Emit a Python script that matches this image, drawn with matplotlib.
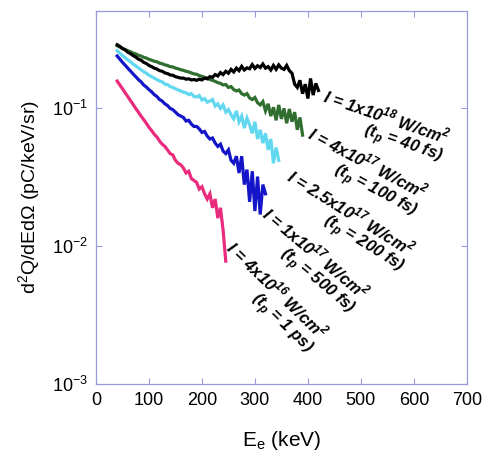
import matplotlib
matplotlib.use("Agg")
import matplotlib.pyplot as plt
import numpy as np

plt.rcParams["font.family"] = ["Liberation Sans", "DejaVu Sans"]

# energies (keV), 5 keV bins, one array per spectrum
E_1ps = np.arange(40, 250, 5)
E_500fs = np.arange(40, 325, 5)
E_200fs = np.arange(40, 350, 5)
E_100fs = np.arange(40, 395, 5)
E_40fs = np.arange(40, 425, 5)

# d2Q/dEdOmega (pC/keV/sr)
Q_1ps = [0.158, 0.148, 0.139, 0.130, 0.122, 0.114, 0.107, 0.100, 0.094, 0.088,
         0.083, 0.078, 0.073, 0.069, 0.065, 0.062, 0.058, 0.055, 0.053, 0.050,
         0.047, 0.046, 0.042, 0.040, 0.039, 0.037, 0.034, 0.035, 0.031, 0.030,
         0.029, 0.026, 0.027, 0.024, 0.022, 0.024, 0.019, 0.022, 0.016, 0.019,
         0.013, 0.0078]
Q_500fs = [0.240, 0.228, 0.216, 0.206, 0.196, 0.187, 0.178, 0.170, 0.162, 0.156,
           0.148, 0.143, 0.137, 0.132, 0.126, 0.122, 0.116, 0.113, 0.108, 0.105,
           0.100, 0.098, 0.094, 0.090, 0.088, 0.086, 0.081, 0.082, 0.077, 0.074,
           0.074, 0.071, 0.067, 0.068, 0.063, 0.060, 0.061, 0.056, 0.053, 0.055,
           0.049, 0.047, 0.050, 0.042, 0.040, 0.045, 0.034, 0.045, 0.028, 0.036,
           0.021, 0.035, 0.018, 0.032, 0.017, 0.028, 0.024]
Q_200fs = [0.262, 0.252, 0.242, 0.234, 0.225, 0.218, 0.210, 0.204, 0.197, 0.191,
           0.185, 0.180, 0.174, 0.170, 0.166, 0.162, 0.158, 0.156, 0.150, 0.149,
           0.144, 0.142, 0.139, 0.136, 0.134, 0.131, 0.130, 0.126, 0.128, 0.122,
           0.121, 0.124, 0.115, 0.118, 0.111, 0.113, 0.116, 0.104, 0.108, 0.100,
           0.106, 0.094, 0.098, 0.090, 0.084, 0.096, 0.080, 0.088, 0.072, 0.085,
           0.076, 0.066, 0.080, 0.060, 0.070, 0.056, 0.066, 0.050, 0.060, 0.040,
           0.052, 0.042]
Q_100fs = [0.285, 0.279, 0.272, 0.268, 0.262, 0.258, 0.252, 0.249, 0.243, 0.240,
           0.235, 0.232, 0.227, 0.224, 0.220, 0.218, 0.213, 0.211, 0.207, 0.205,
           0.201, 0.200, 0.196, 0.194, 0.191, 0.189, 0.186, 0.184, 0.181, 0.178,
           0.177, 0.173, 0.171, 0.168, 0.166, 0.162, 0.160, 0.157, 0.154, 0.152,
           0.148, 0.149, 0.142, 0.144, 0.137, 0.134, 0.136, 0.128, 0.125, 0.128,
           0.119, 0.116, 0.120, 0.110, 0.106, 0.112, 0.096, 0.108, 0.088, 0.102,
           0.082, 0.106, 0.084, 0.100, 0.078, 0.099, 0.080, 0.094, 0.070, 0.086,
           0.064]
Q_40fs = [0.290, 0.282, 0.272, 0.266, 0.256, 0.250, 0.242, 0.236, 0.228, 0.224,
          0.216, 0.212, 0.205, 0.201, 0.196, 0.193, 0.188, 0.186, 0.181, 0.179,
          0.175, 0.174, 0.170, 0.168, 0.166, 0.166, 0.163, 0.164, 0.161, 0.162,
          0.160, 0.163, 0.161, 0.166, 0.164, 0.170, 0.168, 0.176, 0.172, 0.182,
          0.176, 0.186, 0.180, 0.192, 0.184, 0.196, 0.188, 0.202, 0.190, 0.197,
          0.194, 0.208, 0.195, 0.204, 0.198, 0.210, 0.196, 0.201, 0.190, 0.205,
          0.192, 0.207, 0.196, 0.192, 0.205, 0.188, 0.180, 0.150, 0.142, 0.160,
          0.128, 0.150, 0.118, 0.165, 0.125, 0.152, 0.135]

labels = [
    r"I = 4x10$^{\mathdefault{16}}$ W/cm$^{\mathdefault{2}}$" + "\n" + r"(t$_{\mathdefault{p}}$ = 1 ps)",
    r"I = 1x10$^{\mathdefault{17}}$ W/cm$^{\mathdefault{2}}$" + "\n" + r"(t$_{\mathdefault{p}}$ = 500 fs)",
    r"I = 2.5x10$^{\mathdefault{17}}$ W/cm$^{\mathdefault{2}}$" + "\n" + r"(t$_{\mathdefault{p}}$ = 200 fs)",
    r"I = 4x10$^{\mathdefault{17}}$ W/cm$^{\mathdefault{2}}$" + "\n" + r"(t$_{\mathdefault{p}}$ = 100 fs)",
    r"I = 1x10$^{\mathdefault{18}}$ W/cm$^{\mathdefault{2}}$" + "\n" + r"(t$_{\mathdefault{p}}$ = 40 fs)",
]
label_E = [266, 332, 376, 413, 438]
label_Q = [0.0117, 0.0207, 0.039, 0.079, 0.147]
label_angle = [-44, -40, -32, -28, -19]

colors = ["#ea2a7c", "#1414c8", "#62d8f0", "#2f6e2f", "#000000"]
spectra = [(E_1ps, Q_1ps), (E_500fs, Q_500fs), (E_200fs, Q_200fs),
           (E_100fs, Q_100fs), (E_40fs, Q_40fs)]

frame = "#9a9ae0"

fig = plt.figure(figsize=(4.86, 4.55), dpi=100)
ax = fig.add_axes([0.1975, 0.156, 0.763, 0.820])

for (E, Q), c in zip(spectra, colors):
    ax.plot(E, Q, color=c, lw=2.3, solid_joinstyle="miter")

for txt, x, y, a in zip(labels, label_E, label_Q, label_angle):
    ax.text(x, y, txt, rotation=a, rotation_mode="anchor", ha="left", va="top",
            multialignment="right", fontsize=12, fontweight="bold",
            fontstyle="italic", linespacing=1.0)

ax.set_yscale("log")
ax.set_xlim(0, 700)
ax.set_ylim(1e-3, 0.51)
ax.set_xticks(np.arange(0, 701, 100))
ax.minorticks_off()
ax.tick_params(direction="in", length=4, width=0.8, color=frame,
               top=True, right=True, labelsize=13, pad=6)
for s in ax.spines.values():
    s.set_color(frame)
    s.set_linewidth(0.9)

ax.set_xlabel("E$_{\\mathdefault{e}}$ (keV)", fontsize=15, labelpad=14)
ax.set_ylabel("d$^{\\mathdefault{2}}$Q/dEdΩ (pC/keV/sr)", fontsize=14, labelpad=6)

fig.savefig("out.png", dpi=100)
